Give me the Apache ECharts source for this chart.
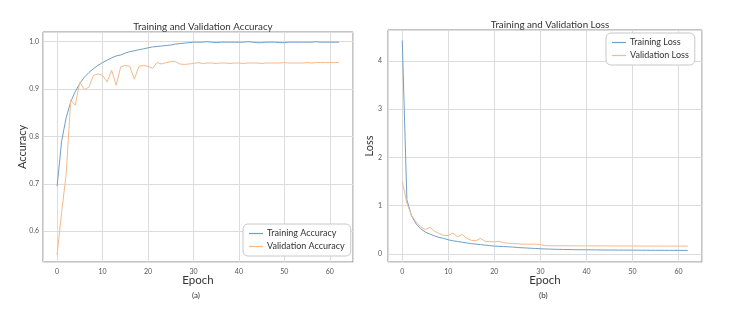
<!DOCTYPE html>
<html>
<head>
<meta charset="utf-8">
<script src="https://cdn.jsdelivr.net/npm/echarts@6/dist/echarts.min.js"></script>
<style>
  html, body { margin: 0; padding: 0; background: #fff; }
  #chart { width: 748px; height: 327px; }
</style>
</head>
<body>
<div id="chart"></div>
<script>
// epochs 0..62
const epochs = Array.from({ length: 63 }, (_, i) => i);

const trainAcc = [
  0.695, 0.79, 0.84, 0.873, 0.895, 0.912, 0.925, 0.935, 0.943, 0.95,
  0.956, 0.961, 0.966, 0.970, 0.972, 0.976, 0.979, 0.981, 0.983, 0.985,
  0.987, 0.989, 0.990, 0.991, 0.992, 0.993, 0.995, 0.996, 0.997, 0.998,
  0.999, 0.999, 0.999, 1.0, 0.999, 0.998, 0.999, 0.999, 0.999, 0.999,
  0.999, 0.999, 1.0, 0.999, 0.998, 0.998, 0.999, 0.999, 0.999, 0.998,
  0.998, 0.999, 0.999, 0.999, 0.999, 0.999, 0.999, 1.0, 0.999, 0.999,
  0.999, 0.999, 0.999
];
const valAcc = [
  0.55, 0.64, 0.72, 0.877, 0.866, 0.915, 0.899, 0.904, 0.929, 0.932,
  0.929, 0.915, 0.94, 0.908, 0.947, 0.95, 0.948, 0.921, 0.948, 0.95,
  0.948, 0.944, 0.956, 0.953, 0.956, 0.958, 0.958, 0.953, 0.952, 0.953,
  0.954, 0.956, 0.954, 0.955, 0.955, 0.954, 0.955, 0.955, 0.954, 0.955,
  0.955, 0.954, 0.955, 0.955, 0.955, 0.954, 0.955, 0.955, 0.955, 0.955,
  0.956, 0.955, 0.955, 0.955, 0.955, 0.956, 0.955, 0.956, 0.956, 0.956,
  0.956, 0.956, 0.956
];
const trainLoss = [
  4.42, 1.12, 0.79, 0.62, 0.52, 0.45, 0.41, 0.37, 0.34, 0.32,
  0.29, 0.27, 0.255, 0.24, 0.225, 0.21, 0.20, 0.19, 0.18, 0.17,
  0.16, 0.155, 0.15, 0.145, 0.14, 0.13, 0.125, 0.12, 0.115, 0.11,
  0.105, 0.10, 0.097, 0.094, 0.092, 0.09, 0.088, 0.086, 0.085, 0.084,
  0.083, 0.082, 0.081, 0.080, 0.079, 0.078, 0.078, 0.077, 0.076, 0.076,
  0.075, 0.075, 0.074, 0.074, 0.073, 0.073, 0.072, 0.072, 0.071, 0.071,
  0.071, 0.070, 0.070
];
const valLoss = [
  1.5, 1.05, 0.8, 0.66, 0.56, 0.5, 0.55, 0.47, 0.42, 0.38,
  0.38, 0.43, 0.35, 0.40, 0.32, 0.28, 0.27, 0.32, 0.26, 0.25,
  0.25, 0.26, 0.23, 0.22, 0.21, 0.21, 0.20, 0.20, 0.20, 0.20,
  0.19, 0.17, 0.168, 0.167, 0.166, 0.166, 0.165, 0.165, 0.165, 0.164,
  0.164, 0.164, 0.163, 0.163, 0.163, 0.163, 0.162, 0.162, 0.162, 0.162,
  0.162, 0.161, 0.161, 0.161, 0.161, 0.161, 0.160, 0.160, 0.160, 0.160,
  0.160, 0.160, 0.160
];

const pairs = (ys) => epochs.map((e, i) => [e, ys[i]]);

const FONT = 'Lato';
const BLUE = '#6f9fc9';
const ORANGE = '#f5b98c';

const chart = echarts.init(document.getElementById('chart'));

const xAxisBase = {
  type: 'value',
  min: -3.1,
  max: 65.1,
  splitNumber: 7,
  name: 'Epoch',
  nameLocation: 'middle',
  nameGap: 12,
  nameMoveOverlap: false,
  nameTextStyle: { fontFamily: FONT, fontSize: 11.5, color: '#333' },
  axisLine: { show: false },
  axisTick: { show: false },
  axisLabel: { fontFamily: FONT, fontSize: 7, color: '#555', margin: 6, showMinLabel: false, showMaxLabel: false },
  splitLine: { show: true, lineStyle: { color: '#dcdcdc', width: 1 } }
};

const legendBase = {
  orient: 'vertical',
  icon: 'rect', itemWidth: 14, itemHeight: 1.2, itemGap: 4,
  padding: [5, 6, 5, 6],
  borderColor: '#c8c8c8', borderWidth: 1, borderRadius: 5, backgroundColor: '#fff',
  textStyle: { fontFamily: FONT, fontSize: 9, color: '#333', padding: [0, 0, 0, -1] }
};

chart.setOption({
  backgroundColor: '#fff',
  animation: false,
  title: [
    { text: 'Training and Validation Accuracy', left: 198, top: 17, textAlign: 'center',
      textStyle: { fontFamily: FONT, fontSize: 9.8, fontWeight: 'normal', color: '#333' } },
    { text: 'Training and Validation Loss', left: 545, top: 15, textAlign: 'center',
      textStyle: { fontFamily: FONT, fontSize: 9.8, fontWeight: 'normal', color: '#333' } }
  ],
  legend: [
    Object.assign({}, legendBase, { data: ['Training Accuracy', 'Validation Accuracy'], left: 243, top: 224 }),
    Object.assign({}, legendBase, { data: ['Training Loss', 'Validation Loss'], left: 606, top: 33 })
  ],
  grid: [
    { left: 43, top: 32, width: 310, height: 230, show: true, borderColor: '#8a8a8a', borderWidth: 1, backgroundColor: '#fff' },
    { left: 388, top: 30, width: 314, height: 232, show: true, borderColor: '#8a8a8a', borderWidth: 1, backgroundColor: '#fff' }
  ],
  xAxis: [
    Object.assign({}, xAxisBase, { gridIndex: 0 }),
    Object.assign({}, xAxisBase, { gridIndex: 1 })
  ],
  yAxis: [
    {
      gridIndex: 0, type: 'value', min: 0.535, max: 1.0205, splitNumber: 5,
      name: 'Accuracy', nameLocation: 'middle', nameGap: 15, nameMoveOverlap: false,
      nameTextStyle: { fontFamily: FONT, fontSize: 11, color: '#333' },
      axisLine: { show: false }, axisTick: { show: false },
      axisLabel: { fontFamily: FONT, fontSize: 7, color: '#555', margin: 4,
        showMinLabel: false, showMaxLabel: false, formatter: v => v.toFixed(1) },
      splitLine: { show: true, lineStyle: { color: '#dcdcdc', width: 1 } }
    },
    {
      gridIndex: 1, type: 'value', min: -0.17, max: 4.64, splitNumber: 5,
      name: 'Loss', nameLocation: 'middle', nameGap: 13.5, nameMoveOverlap: false,
      nameTextStyle: { fontFamily: FONT, fontSize: 11, color: '#333' },
      axisLine: { show: false }, axisTick: { show: false },
      axisLabel: { fontFamily: FONT, fontSize: 7, color: '#555', margin: 6,
        showMinLabel: false, showMaxLabel: false },
      splitLine: { show: true, lineStyle: { color: '#dcdcdc', width: 1 } }
    }
  ],
  graphic: [
    { type: 'text', left: 192, top: 291, style: { text: '(a)', font: '8px ' + FONT, fill: '#333' } },
    { type: 'text', left: 539, top: 291, style: { text: '(b)', font: '8px ' + FONT, fill: '#333' } }
  ],
  series: [
    { name: 'Training Accuracy', type: 'line', xAxisIndex: 0, yAxisIndex: 0, data: pairs(trainAcc),
      showSymbol: false, lineStyle: { color: BLUE, width: 1 }, itemStyle: { color: BLUE } },
    { name: 'Validation Accuracy', type: 'line', xAxisIndex: 0, yAxisIndex: 0, data: pairs(valAcc),
      showSymbol: false, lineStyle: { color: ORANGE, width: 1 }, itemStyle: { color: ORANGE } },
    { name: 'Training Loss', type: 'line', xAxisIndex: 1, yAxisIndex: 1, data: pairs(trainLoss),
      showSymbol: false, lineStyle: { color: BLUE, width: 1 }, itemStyle: { color: BLUE } },
    { name: 'Validation Loss', type: 'line', xAxisIndex: 1, yAxisIndex: 1, data: pairs(valLoss),
      showSymbol: false, lineStyle: { color: ORANGE, width: 1 }, itemStyle: { color: ORANGE } }
  ]
});
</script>
</body>
</html>
